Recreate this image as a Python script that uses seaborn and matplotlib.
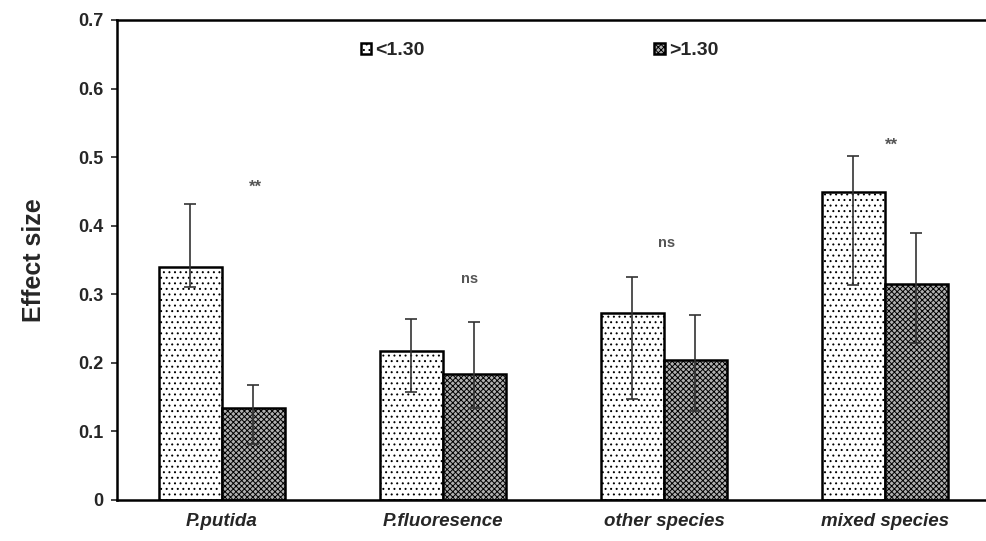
import matplotlib
matplotlib.use('Agg')
import matplotlib.pyplot as plt
import seaborn as sns
import pandas as pd
import numpy as np

# 数据
species = ['P.putida', 'P.fluoresence', 'other species', 'mixed species']
groups = ['<1.30', '>1.30']
low_mean = [0.340, 0.217, 0.272, 0.449]
low_ci_lo = [0.310, 0.158, 0.147, 0.313]
low_ci_hi = [0.431, 0.264, 0.325, 0.502]
high_mean = [0.134, 0.184, 0.204, 0.315]
high_ci_lo = [0.082, 0.134, 0.130, 0.229]
high_ci_hi = [0.168, 0.260, 0.270, 0.389]
sig_labels = ['**', 'ns', 'ns', '**']
sig_y = [0.456, 0.322, 0.375, 0.518]

df = pd.DataFrame({
    'species': species * 2,
    'group': [groups[0]] * 4 + [groups[1]] * 4,
    'effect': low_mean + high_mean,
})

sns.set_style('white')
plt.rcParams['font.family'] = ['Liberation Sans', 'DejaVu Sans']
plt.rcParams['hatch.linewidth'] = 0.7

fig = plt.figure(figsize=(9.87, 5.41), dpi=100)
ax = fig.add_axes([117 / 987, 41 / 541, 870 / 987, 480 / 541])

sns.barplot(data=df, x='species', y='effect', hue='group', hue_order=groups,
            width=0.57, errorbar=None, palette=['white', '#b0b0b0'],
            edgecolor='black', linewidth=1.8, ax=ax)

bar_conts = list(ax.containers)
hatches = ['...', 'xxxxxx']
errs = [(low_mean, low_ci_lo, low_ci_hi), (high_mean, high_ci_lo, high_ci_hi)]
for cont, hatch, (m, lo, hi) in zip(bar_conts, hatches, errs):
    xs = []
    for bar in cont:
        bar.set_hatch(hatch)
        xs.append(bar.get_x() + bar.get_width() / 2)
    m = np.array(m)
    yerr = [m - np.array(lo), np.array(hi) - m]
    ax.errorbar(xs, m, yerr=yerr, fmt='none', ecolor='#333333',
                elinewidth=1.2, capsize=4, capthick=1.2, zorder=5)

# 显著性标记
sig_dx = [0.15, 0.12, 0.01, 0.03]
for i, (lab, y) in enumerate(zip(sig_labels, sig_y)):
    size = 12 if lab == '**' else 10.5
    ax.text(i + sig_dx[i], y, lab, ha='center', va='center',
            fontsize=size, fontweight='bold', color='#555555')

# 图例
leg_handles = [cont.patches[0] for cont in bar_conts]
old = ax.get_legend()
if old is not None:
    old.remove()
leg = ax.legend(leg_handles, groups, loc='upper left', bbox_to_anchor=(0.26, 0.99),
                ncol=2, frameon=False, handlelength=0.55, handleheight=0.55,
                handletextpad=0.2, columnspacing=11.8,
                prop={'weight': 'bold', 'size': 14})

ax.set_xlim(-0.475, 3.462)
ax.set_ylim(0, 0.7)
ax.set_yticks(np.arange(0, 0.71, 0.1))
ax.set_yticklabels(['0'] + [f'{v:.1f}' for v in np.arange(0.1, 0.71, 0.1)])
ax.set_xlabel('')
ax.set_ylabel('Effect size', fontsize=18, fontweight='bold', labelpad=23)

for lab in ax.get_yticklabels():
    lab.set_fontweight('bold')
    lab.set_fontsize(13)
for lab in ax.get_xticklabels():
    lab.set_fontweight('bold')
    lab.set_fontstyle('italic')
    lab.set_fontsize(13.5)

ax.tick_params(axis='y', direction='out', length=4, width=1.2, left=True, pad=6)
ax.tick_params(axis='x', length=0, pad=9)
ax.spines['right'].set_visible(False)
for s in ['left', 'bottom', 'top']:
    ax.spines[s].set_linewidth(1.8)
    ax.spines[s].set_color('black')

fig.savefig('out.png', dpi=100, facecolor='white')
